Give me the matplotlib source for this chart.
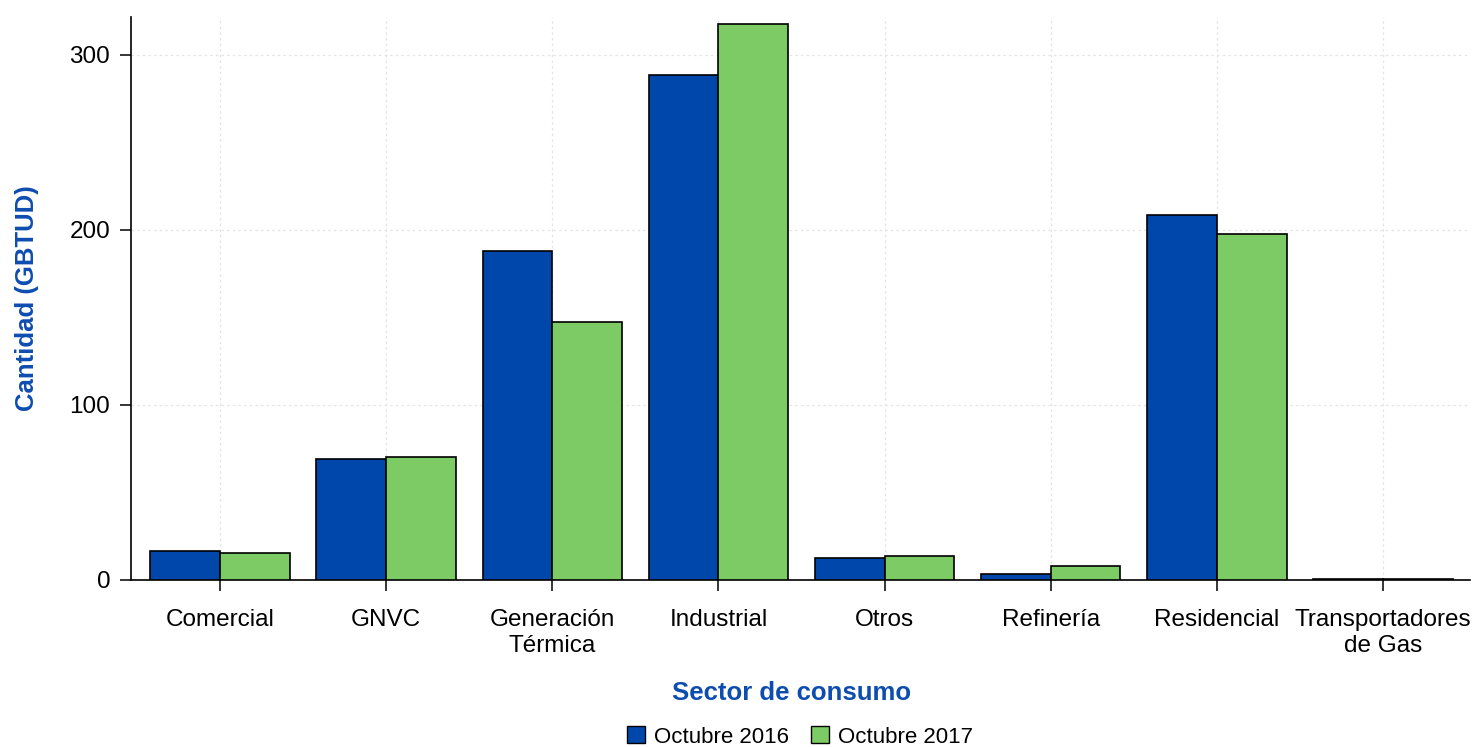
import matplotlib
matplotlib.use("Agg")
import matplotlib.pyplot as plt
import numpy as np
from matplotlib.patches import Patch

categories = ["Comercial", "GNVC", "Generación\nTérmica", "Industrial", "Otros",
              "Refinería", "Residencial", "Transportadores\nde Gas"]
series_names = ["Octubre 2016", "Octubre 2017"]
values_2016 = [16.3, 69.1, 187.7, 288.5, 12.4, 3.2, 208.3, 0.4]
values_2017 = [15.4, 70.3, 147.2, 317.6, 13.9, 8.2, 197.6, 0.4]
yticks = [0, 100, 200, 300]

colors = ["#0047AB", "#7DCB64"]
label_color = "#0E4DB0"

plt.rcParams['font.family'] = ['Liberation Sans', 'DejaVu Sans']

fig = plt.figure(figsize=(14.78, 7.47), dpi=100)
ax = fig.add_axes([131/1478, 1 - 580/747, (1470-131)/1478, (580-17)/747])

x = np.arange(len(categories))
w = 0.42
ax.bar(x - w/2, values_2016, w, color=colors[0], edgecolor="black", linewidth=1.2, zorder=3)
ax.bar(x + w/2, values_2017, w, color=colors[1], edgecolor="black", linewidth=1.2, zorder=3)

ax.set_xlim(-0.536, 7.524)
ax.set_ylim(0, 321.5)
ax.set_yticks(yticks)
ax.set_xticks(x)
ax.set_xticklabels(categories, fontsize=17.5, linespacing=1.2)
ax.tick_params(axis='y', labelsize=17.5, length=8, width=1.1, pad=7)
ax.tick_params(axis='x', length=8, width=1.1, pad=13)
ax.grid(True, color="#e4e4e4", linestyle=(0, (2, 2.5)), linewidth=0.9, zorder=0)
for s in ["top", "right"]:
    ax.spines[s].set_visible(False)
for s in ["left", "bottom"]:
    ax.spines[s].set_linewidth(1.2)

ax.set_xlabel("Sector de consumo", fontsize=18.5, fontweight="bold", color=label_color, labelpad=16)
ax.xaxis.set_label_coords(0.493, -0.18)
ax.set_ylabel("Cantidad (GBTUD)", fontsize=18.5, fontweight="bold", color=label_color, labelpad=22)

handles = [Patch(facecolor=colors[i], edgecolor="black", label=series_names[i]) for i in range(2)]
fig.legend(handles=handles, loc="center", bbox_to_anchor=(800/1478, 1 - 737/747), ncol=2,
           frameon=False, fontsize=16, handlelength=0.8, handleheight=0.8,
           handletextpad=0.4, columnspacing=1.0)

fig.savefig("out.png", dpi=100)
